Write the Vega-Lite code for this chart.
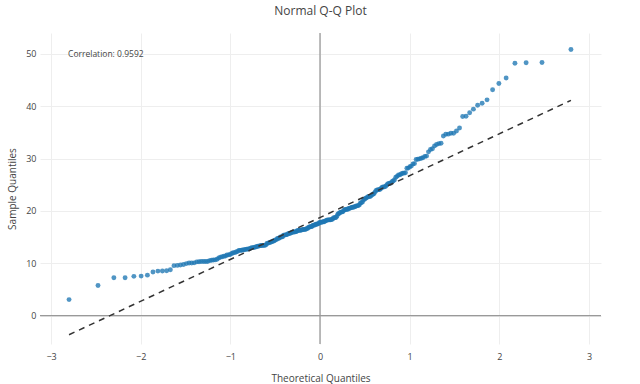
{
  "$schema": "https://vega.github.io/schema/vega-lite/v6.json",
  "width": 561,
  "height": 311,
  "autosize": {"type": "none"},
  "padding": {"left": 40, "top": 33, "right": 39, "bottom": 40},
  "background": "white",
  "title": {"text": "Normal Q-Q Plot", "font": "Open Sans", "fontSize": 12, "fontWeight": "normal", "color": "#444", "anchor": "middle", "offset": 14},
  "config": {
    "view": {"stroke": null},
    "axis": {"grid": true, "gridColor": "#eeeeee", "gridWidth": 1, "domain": false, "ticks": false, "labelFont": "Open Sans", "labelFontSize": 9, "labelColor": "#444", "titleFont": "Open Sans", "titleFontSize": 10, "titleFontWeight": "normal", "titleColor": "#444"}
  },
  "datasets": {
    "points": [
      {"x": -2.799, "y": 3.07}, {"x": -2.476, "y": 5.75}, {"x": -2.299, "y": 7.25}, {"x": -2.174, "y": 7.25}, {"x": -2.076, "y": 7.51},
      {"x": -1.995, "y": 7.56}, {"x": -1.925, "y": 7.74}, {"x": -1.863, "y": 8.35}, {"x": -1.808, "y": 8.51}, {"x": -1.758, "y": 8.52},
      {"x": -1.711, "y": 8.58}, {"x": -1.669, "y": 8.77}, {"x": -1.629, "y": 9.55}, {"x": -1.591, "y": 9.60}, {"x": -1.556, "y": 9.68},
      {"x": -1.522, "y": 9.78}, {"x": -1.490, "y": 9.94}, {"x": -1.460, "y": 10.07}, {"x": -1.431, "y": 10.07}, {"x": -1.403, "y": 10.09},
      {"x": -1.376, "y": 10.27}, {"x": -1.350, "y": 10.29}, {"x": -1.325, "y": 10.33}, {"x": -1.300, "y": 10.33}, {"x": -1.277, "y": 10.34},
      {"x": -1.254, "y": 10.34}, {"x": -1.232, "y": 10.51}, {"x": -1.210, "y": 10.59}, {"x": -1.189, "y": 10.63}, {"x": -1.169, "y": 10.65},
      {"x": -1.148, "y": 10.77}, {"x": -1.129, "y": 11.02}, {"x": -1.110, "y": 11.17}, {"x": -1.091, "y": 11.24}, {"x": -1.072, "y": 11.35},
      {"x": -1.054, "y": 11.38}, {"x": -1.037, "y": 11.59}, {"x": -1.019, "y": 11.61}, {"x": -1.002, "y": 11.69}, {"x": -0.985, "y": 11.87},
      {"x": -0.969, "y": 12.02}, {"x": -0.953, "y": 12.03}, {"x": -0.936, "y": 12.16}, {"x": -0.921, "y": 12.26}, {"x": -0.905, "y": 12.43},
      {"x": -0.890, "y": 12.46}, {"x": -0.875, "y": 12.48}, {"x": -0.860, "y": 12.54}, {"x": -0.845, "y": 12.60}, {"x": -0.830, "y": 12.66},
      {"x": -0.816, "y": 12.69}, {"x": -0.802, "y": 12.74}, {"x": -0.788, "y": 12.76}, {"x": -0.774, "y": 12.90}, {"x": -0.760, "y": 13.00},
      {"x": -0.746, "y": 13.00}, {"x": -0.733, "y": 13.03}, {"x": -0.719, "y": 13.13}, {"x": -0.706, "y": 13.16}, {"x": -0.693, "y": 13.27},
      {"x": -0.680, "y": 13.28}, {"x": -0.667, "y": 13.37}, {"x": -0.654, "y": 13.39}, {"x": -0.642, "y": 13.42}, {"x": -0.629, "y": 13.42},
      {"x": -0.617, "y": 13.42}, {"x": -0.604, "y": 13.51}, {"x": -0.592, "y": 13.81}, {"x": -0.580, "y": 13.81}, {"x": -0.568, "y": 13.94},
      {"x": -0.556, "y": 14.00}, {"x": -0.544, "y": 14.07}, {"x": -0.532, "y": 14.15}, {"x": -0.520, "y": 14.26}, {"x": -0.509, "y": 14.31},
      {"x": -0.497, "y": 14.48}, {"x": -0.485, "y": 14.52}, {"x": -0.474, "y": 14.73}, {"x": -0.462, "y": 14.78}, {"x": -0.451, "y": 14.83},
      {"x": -0.440, "y": 15.01}, {"x": -0.428, "y": 15.04}, {"x": -0.417, "y": 15.06}, {"x": -0.406, "y": 15.36}, {"x": -0.395, "y": 15.38},
      {"x": -0.384, "y": 15.42}, {"x": -0.373, "y": 15.48}, {"x": -0.362, "y": 15.53}, {"x": -0.351, "y": 15.69}, {"x": -0.340, "y": 15.69},
      {"x": -0.329, "y": 15.77}, {"x": -0.318, "y": 15.81}, {"x": -0.308, "y": 15.95}, {"x": -0.297, "y": 15.98}, {"x": -0.286, "y": 15.98},
      {"x": -0.275, "y": 16.00}, {"x": -0.265, "y": 16.04}, {"x": -0.254, "y": 16.21}, {"x": -0.244, "y": 16.27}, {"x": -0.233, "y": 16.29},
      {"x": -0.222, "y": 16.31}, {"x": -0.212, "y": 16.32}, {"x": -0.201, "y": 16.40}, {"x": -0.191, "y": 16.43}, {"x": -0.181, "y": 16.45},
      {"x": -0.170, "y": 16.47}, {"x": -0.160, "y": 16.49}, {"x": -0.149, "y": 16.58}, {"x": -0.139, "y": 16.66}, {"x": -0.129, "y": 16.82},
      {"x": -0.118, "y": 16.93}, {"x": -0.108, "y": 16.97}, {"x": -0.098, "y": 16.99}, {"x": -0.087, "y": 17.07}, {"x": -0.077, "y": 17.26},
      {"x": -0.067, "y": 17.29}, {"x": -0.056, "y": 17.31}, {"x": -0.046, "y": 17.46}, {"x": -0.036, "y": 17.47}, {"x": -0.026, "y": 17.51},
      {"x": -0.015, "y": 17.59}, {"x": -0.005, "y": 17.78}, {"x": 0.005, "y": 17.81}, {"x": 0.015, "y": 17.82}, {"x": 0.026, "y": 17.89},
      {"x": 0.036, "y": 17.92}, {"x": 0.046, "y": 17.92}, {"x": 0.056, "y": 18.04}, {"x": 0.067, "y": 18.15}, {"x": 0.077, "y": 18.24},
      {"x": 0.087, "y": 18.26}, {"x": 0.098, "y": 18.28}, {"x": 0.108, "y": 18.29}, {"x": 0.118, "y": 18.29}, {"x": 0.129, "y": 18.35},
      {"x": 0.139, "y": 18.43}, {"x": 0.149, "y": 18.64}, {"x": 0.160, "y": 18.69}, {"x": 0.170, "y": 18.71}, {"x": 0.181, "y": 18.78},
      {"x": 0.191, "y": 19.08}, {"x": 0.201, "y": 19.44}, {"x": 0.212, "y": 19.49}, {"x": 0.222, "y": 19.65}, {"x": 0.233, "y": 19.77},
      {"x": 0.244, "y": 19.81}, {"x": 0.254, "y": 19.82}, {"x": 0.265, "y": 20.08}, {"x": 0.275, "y": 20.23}, {"x": 0.286, "y": 20.27},
      {"x": 0.297, "y": 20.29}, {"x": 0.308, "y": 20.29}, {"x": 0.318, "y": 20.45}, {"x": 0.329, "y": 20.49}, {"x": 0.340, "y": 20.53},
      {"x": 0.351, "y": 20.65}, {"x": 0.362, "y": 20.69}, {"x": 0.373, "y": 20.69}, {"x": 0.384, "y": 20.76}, {"x": 0.395, "y": 20.90},
      {"x": 0.406, "y": 20.92}, {"x": 0.417, "y": 21.01}, {"x": 0.428, "y": 21.01}, {"x": 0.440, "y": 21.16}, {"x": 0.451, "y": 21.50},
      {"x": 0.462, "y": 21.58}, {"x": 0.474, "y": 21.70}, {"x": 0.485, "y": 22.12}, {"x": 0.497, "y": 22.23}, {"x": 0.509, "y": 22.42},
      {"x": 0.520, "y": 22.49}, {"x": 0.532, "y": 22.67}, {"x": 0.544, "y": 22.75}, {"x": 0.556, "y": 22.76}, {"x": 0.568, "y": 22.82},
      {"x": 0.580, "y": 23.10}, {"x": 0.592, "y": 23.17}, {"x": 0.604, "y": 23.33}, {"x": 0.617, "y": 23.68}, {"x": 0.629, "y": 23.95},
      {"x": 0.642, "y": 24.01}, {"x": 0.654, "y": 24.06}, {"x": 0.667, "y": 24.08}, {"x": 0.680, "y": 24.27}, {"x": 0.693, "y": 24.52},
      {"x": 0.706, "y": 24.55}, {"x": 0.719, "y": 24.59}, {"x": 0.733, "y": 24.71}, {"x": 0.746, "y": 25.00}, {"x": 0.760, "y": 25.21},
      {"x": 0.774, "y": 25.28}, {"x": 0.788, "y": 25.29}, {"x": 0.802, "y": 25.56}, {"x": 0.816, "y": 25.71}, {"x": 0.830, "y": 25.89},
      {"x": 0.845, "y": 26.41}, {"x": 0.860, "y": 26.59}, {"x": 0.875, "y": 26.86}, {"x": 0.890, "y": 26.88}, {"x": 0.905, "y": 27.05},
      {"x": 0.921, "y": 27.18}, {"x": 0.936, "y": 27.20}, {"x": 0.953, "y": 27.28}, {"x": 0.969, "y": 28.15}, {"x": 0.985, "y": 28.17},
      {"x": 1.002, "y": 28.44}, {"x": 1.019, "y": 28.55}, {"x": 1.037, "y": 28.97}, {"x": 1.054, "y": 29.03}, {"x": 1.072, "y": 29.80},
      {"x": 1.091, "y": 29.85}, {"x": 1.110, "y": 29.93}, {"x": 1.129, "y": 30.06}, {"x": 1.148, "y": 30.14}, {"x": 1.169, "y": 30.40},
      {"x": 1.189, "y": 30.46}, {"x": 1.210, "y": 31.27}, {"x": 1.232, "y": 31.71}, {"x": 1.254, "y": 31.85}, {"x": 1.277, "y": 32.40},
      {"x": 1.300, "y": 32.68}, {"x": 1.325, "y": 32.83}, {"x": 1.350, "y": 32.90}, {"x": 1.376, "y": 34.30}, {"x": 1.403, "y": 34.63},
      {"x": 1.431, "y": 34.65}, {"x": 1.460, "y": 34.81}, {"x": 1.490, "y": 34.83}, {"x": 1.522, "y": 35.26}, {"x": 1.556, "y": 35.83},
      {"x": 1.591, "y": 38.01}, {"x": 1.629, "y": 38.07}, {"x": 1.669, "y": 38.73}, {"x": 1.711, "y": 39.42}, {"x": 1.758, "y": 40.17},
      {"x": 1.808, "y": 40.55}, {"x": 1.863, "y": 41.19}, {"x": 1.925, "y": 43.11}, {"x": 1.995, "y": 44.30}, {"x": 2.076, "y": 45.35},
      {"x": 2.174, "y": 48.17}, {"x": 2.299, "y": 48.27}, {"x": 2.476, "y": 48.33}, {"x": 2.799, "y": 50.81}
    ],
    "fit": [
      {"x": -2.799, "y": -3.63},
      {"x": 2.799, "y": 41.10}
    ]
  },
  "encoding": {
    "x": {"type": "quantitative", "scale": {"domain": [-3.123, 3.134], "nice": false, "zero": false},
          "axis": {"values": [-3, -2, -1, 0, 1, 2, 3], "format": "d", "labelPadding": 8, "titlePadding": 12}},
    "y": {"type": "quantitative", "scale": {"domain": [-5.4, 53.95], "nice": false, "zero": false},
          "axis": {"values": [0, 10, 20, 30, 40, 50], "format": "d", "labelPadding": 4, "titlePadding": 8}}
  },
  "layer": [
    {
      "data": {"name": "points"},
      "mark": {"type": "circle", "size": 0, "opacity": 0},
      "encoding": {
        "x": {"field": "x", "type": "quantitative", "title": "Theoretical Quantiles"},
        "y": {"field": "y", "type": "quantitative", "title": "Sample Quantiles"}
      }
    },
    {
      "data": {"values": [{"v": 0}]},
      "mark": {"type": "rule", "color": "#999", "strokeWidth": 1.3},
      "encoding": {
        "x": {"field": "v", "type": "quantitative", "title": "Theoretical Quantiles"},
        "y": null
      }
    },
    {
      "data": {"values": [{"v": 0}]},
      "mark": {"type": "rule", "color": "#999", "strokeWidth": 1.3},
      "encoding": {
        "x": null,
        "y": {"field": "v", "type": "quantitative", "title": "Sample Quantiles"}
      }
    },
    {
      "data": {"name": "points"},
      "mark": {"type": "circle", "size": 24, "color": "#1f77b4", "opacity": 0.78},
      "encoding": {
        "x": {"field": "x", "type": "quantitative", "title": "Theoretical Quantiles"},
        "y": {"field": "y", "type": "quantitative", "title": "Sample Quantiles"}
      }
    },
    {
      "data": {"name": "fit"},
      "mark": {"type": "line", "color": "#333", "strokeWidth": 1.5, "strokeDash": [6, 5]},
      "encoding": {
        "x": {"field": "x", "type": "quantitative", "title": "Theoretical Quantiles"},
        "y": {"field": "y", "type": "quantitative", "title": "Sample Quantiles"}
      }
    },
    {
      "data": {"values": [{"label": "Correlation: 0.9592", "x": -2.81, "y": 49.95}]},
      "mark": {"type": "text", "align": "left", "baseline": "middle", "font": "Open Sans", "fontSize": 8.5, "color": "#444"},
      "encoding": {
        "text": {"field": "label"},
        "x": {"field": "x", "type": "quantitative", "title": "Theoretical Quantiles"},
        "y": {"field": "y", "type": "quantitative", "title": "Sample Quantiles"}
      }
    }
  ]
}
